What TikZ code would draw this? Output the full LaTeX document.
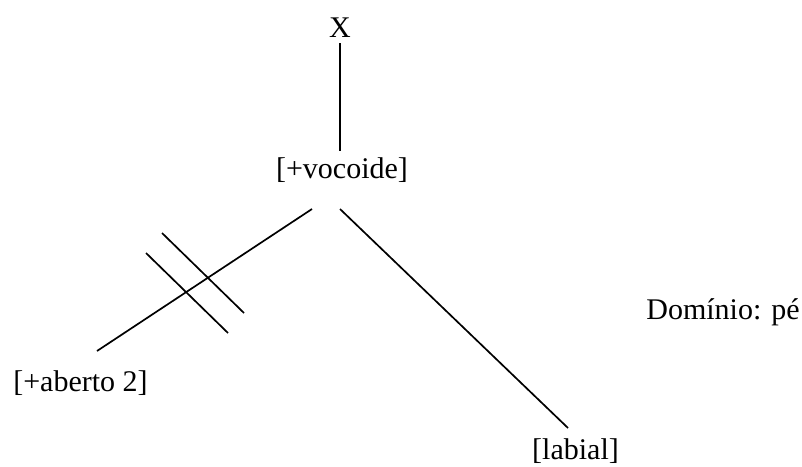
\documentclass[tikz,border=0pt]{standalone}
\usepackage{fontspec}
\setmainfont{Liberation Serif}
\begin{document}
\begin{tikzpicture}[x=1pt,y=-1pt,
  lbl/.style={anchor=base, inner sep=0pt, font=\fontsize{30}{32}\selectfont},
  edge/.style={line width=1.7pt, black}]
\useasboundingbox (0,0) rectangle (802,466);
% labels
\node[lbl] (x) at (340,37) {X};
\node[lbl] (voc) at (342,178) {[+vocoide]};
\node[lbl] (ab) at (80.5,391) {[+aberto 2]};
\node[lbl] (lab) at (575.5,459) {[labial]};
\node[lbl] (dom) at (723,319) {Domínio: pé};
% line ends
\coordinate (xb) at (340,43);
\coordinate (vt) at (340,151);
\coordinate (vl) at (312,209);
\coordinate (vr) at (340,209);
\coordinate (abt) at (97,351);
\coordinate (labt) at (568,428);
\coordinate (s1a) at (146,253);
\coordinate (s1b) at (228,333);
\coordinate (s2a) at (162,233);
\coordinate (s2b) at (244,313);
% connectors
\draw[edge] (xb) -- (vt);
\draw[edge] (vl) -- (abt);
\draw[edge] (vr) -- (labt);
\draw[edge] (s1a) -- (s1b);
\draw[edge] (s2a) -- (s2b);
\end{tikzpicture}
\end{document}
